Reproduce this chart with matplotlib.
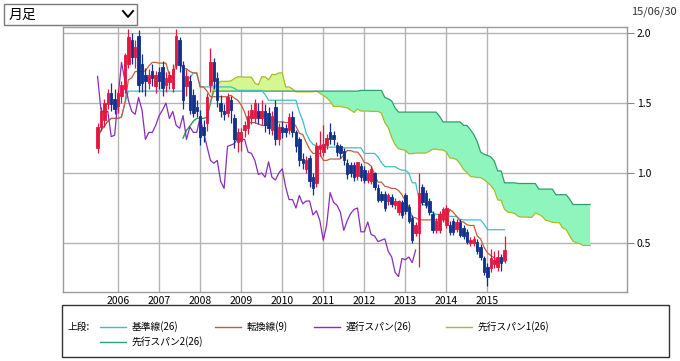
import numpy as np
import pandas as pd
import matplotlib
matplotlib.use('Agg')
import matplotlib.pyplot as plt
from matplotlib.patches import Rectangle
from matplotlib.lines import Line2D

plt.rcParams['font.family'] = ['Noto Sans CJK JP', 'DejaVu Sans']

# ── 月足データ (2005/07 〜 2015/06) ─────────────────────────
opens = [
    1.18, 1.33, 1.38, 1.49, 1.57, 1.53,
    1.48, 1.55, 1.60, 1.78, 1.95, 1.83, 1.98, 1.78, 1.70, 1.64, 1.73, 1.62,
    1.72, 1.76, 1.63, 1.65, 1.61, 1.77, 1.95, 1.77, 1.62, 1.66, 1.56, 1.47,
    1.41, 1.33, 1.36, 1.63, 1.79, 1.68, 1.50, 1.44, 1.43, 1.52, 1.39, 1.22,
    1.23, 1.31, 1.32, 1.39, 1.39, 1.44, 1.39, 1.44, 1.43, 1.31, 1.47, 1.24,
    1.33, 1.32, 1.31, 1.40, 1.29, 1.24, 1.10, 1.03, 1.11, 0.97, 0.93, 1.17,
    1.15, 1.20, 1.29, 1.27, 1.20, 1.19, 1.16, 1.07, 1.06, 1.06, 0.98, 1.05,
    1.02, 0.95, 0.94, 1.00, 0.89, 0.85, 0.85, 0.80, 0.83, 0.77, 0.72, 0.79,
    0.84, 0.76, 0.68, 0.57, 0.57, 0.90, 0.86, 0.80, 0.71, 0.59, 0.59, 0.67,
    0.63, 0.63, 0.66, 0.60, 0.65, 0.61, 0.58, 0.50, 0.50, 0.51, 0.47, 0.39,
    0.33, 0.32, 0.35, 0.33, 0.40, 0.38,
]
highs = [
    1.36, 1.47, 1.53, 1.60, 1.64, 1.60,
    1.60, 1.66, 1.86, 2.03, 2.00, 1.95, 2.02, 1.85, 1.75, 1.74, 1.78, 1.73,
    1.76, 1.80, 1.72, 1.73, 1.78, 2.03, 1.97, 1.80, 1.74, 1.70, 1.60, 1.52,
    1.45, 1.38, 1.57, 1.89, 1.82, 1.72, 1.56, 1.49, 1.57, 1.55, 1.42, 1.32,
    1.32, 1.37, 1.45, 1.49, 1.53, 1.50, 1.52, 1.49, 1.47, 1.44, 1.52, 1.36,
    1.37, 1.35, 1.43, 1.44, 1.31, 1.26, 1.14, 1.12, 1.13, 1.00, 1.22, 1.30,
    1.34, 1.28, 1.36, 1.30, 1.22, 1.21, 1.18, 1.10, 1.08, 1.08, 1.08, 1.07,
    1.05, 1.02, 1.05, 1.01, 0.92, 0.87, 0.87, 0.86, 0.85, 0.82, 0.81, 0.81,
    0.86, 0.78, 0.70, 0.65, 1.00, 0.92, 0.88, 0.82, 0.73, 0.68, 0.73, 0.76,
    0.77, 0.66, 0.68, 0.67, 0.67, 0.63, 0.60, 0.54, 0.55, 0.53, 0.49, 0.41,
    0.36, 0.46, 0.44, 0.45, 0.42, 0.55,
]
lows = [
    1.14, 1.30, 1.33, 1.46, 1.44, 1.42,
    1.43, 1.50, 1.57, 1.75, 1.78, 1.75, 1.58, 1.58, 1.55, 1.60, 1.62, 1.57,
    1.60, 1.55, 1.58, 1.60, 1.58, 1.74, 1.72, 1.46, 1.55, 1.42, 1.40, 1.40,
    1.20, 1.22, 1.30, 1.58, 1.60, 1.47, 1.40, 1.38, 1.40, 1.36, 1.18, 1.15,
    1.16, 1.26, 1.28, 1.35, 1.36, 1.35, 1.34, 1.29, 1.28, 1.27, 1.20, 1.20,
    1.25, 1.26, 1.28, 1.26, 1.15, 1.05, 1.03, 1.00, 0.90, 0.84, 0.90, 1.12,
    1.12, 1.17, 1.21, 1.20, 1.12, 1.11, 1.06, 0.96, 0.97, 0.94, 0.95, 0.94,
    0.93, 0.93, 0.92, 0.88, 0.79, 0.79, 0.73, 0.77, 0.76, 0.74, 0.70, 0.68,
    0.71, 0.64, 0.50, 0.55, 0.33, 0.77, 0.75, 0.70, 0.57, 0.57, 0.57, 0.65,
    0.61, 0.56, 0.56, 0.58, 0.54, 0.53, 0.49, 0.48, 0.48, 0.42, 0.38, 0.27,
    0.19, 0.29, 0.32, 0.30, 0.30, 0.36,
]
closes = [
    1.33, 1.44, 1.50, 1.57, 1.49, 1.46,
    1.57, 1.63, 1.84, 1.97, 1.83, 1.90, 1.63, 1.64, 1.66, 1.70, 1.68, 1.70,
    1.66, 1.61, 1.68, 1.70, 1.74, 1.98, 1.77, 1.52, 1.69, 1.45, 1.43, 1.44,
    1.26, 1.27, 1.54, 1.79, 1.66, 1.52, 1.44, 1.42, 1.54, 1.45, 1.24, 1.29,
    1.29, 1.34, 1.41, 1.45, 1.50, 1.39, 1.44, 1.34, 1.32, 1.41, 1.24, 1.33,
    1.29, 1.29, 1.40, 1.29, 1.19, 1.09, 1.07, 1.09, 0.94, 0.89, 1.19, 1.20,
    1.21, 1.25, 1.24, 1.24, 1.15, 1.14, 1.09, 0.99, 1.00, 0.97, 1.08, 0.97,
    0.95, 1.00, 1.03, 0.90, 0.81, 0.81, 0.75, 0.84, 0.78, 0.80, 0.80, 0.70,
    0.73, 0.66, 0.52, 0.63, 0.86, 0.79, 0.77, 0.72, 0.59, 0.66, 0.71, 0.74,
    0.75, 0.58, 0.58, 0.65, 0.56, 0.55, 0.51, 0.52, 0.53, 0.44, 0.40, 0.29,
    0.26, 0.39, 0.38, 0.40, 0.36, 0.45,
]
years = list(range(2006, 2016))
y_ticks = [0.5, 1.0, 1.5, 2.0]
legend_items = [
    ("基準線(26)",     "#3cc0c8"),
    ("転換線(9)",      "#c0603a"),
    ("遅行スパン(26)", "#8a2cbc"),
    ("先行スパン1(26)", "#aabc28"),
    ("先行スパン2(26)", "#2f9e6e"),
]

UP, DOWN = "#e4153f", "#12318c"
LAG = 26     # 遅行スパン
LEAD = 25    # 先行スパン (当月を含めて26)

# ── 一目均衡表 ───────────────────────────────────────────────
df = pd.DataFrame({"open": opens, "high": highs, "low": lows, "close": closes},
                  index=pd.period_range("2005-07", "2015-06", freq="M"))
xm = np.arange(len(df)) - 6.0   # 2006年1月 = 0

def mid(n):
    return (df["high"].rolling(n, min_periods=1).max() +
            df["low"].rolling(n, min_periods=1).min()) / 2

kijun = mid(26)
tenkan = mid(9)
span1 = ((kijun + tenkan) / 2).values
span2 = mid(52).values
xs = xm + LEAD

# ── 描画 ─────────────────────────────────────────────────────
W, H = 680, 361
fig = plt.figure(figsize=(W / 100, H / 100), dpi=100)
ax = fig.add_axes([63 / W, (H - 292) / H, 564 / W, 265 / H])

def px(x, y):
    return x / W, (H - y) / H

# 雲
ax.fill_between(xs, span1, span2, where=span1 >= span2, interpolate=True,
                color="#d4f792", lw=0, zorder=1)
ax.fill_between(xs, span1, span2, where=span2 > span1, interpolate=True,
                color="#8ef5bc", lw=0, zorder=1)
ax.plot(xs, span1, color=legend_items[3][1], lw=0.9, zorder=2)
ax.plot(xs, span2, color=legend_items[4][1], lw=0.9, zorder=2)
ax.plot(xm, kijun.values, color=legend_items[0][1], lw=0.9, zorder=2)
ax.plot(xm, tenkan.values, color=legend_items[1][1], lw=0.9, zorder=2)
ax.plot(xm[LAG:] - LAG, df["close"].values[LAG:],
        color=legend_items[2][1], lw=0.9, zorder=2)

# ローソク足
o = df["open"].values
c = df["close"].values
cols = [UP if cc >= oo else DOWN for oo, cc in zip(o, c)]
ax.vlines(xm, df["low"].values, df["high"].values, colors=cols, lw=0.9, zorder=3)
ax.bar(xm, np.abs(c - o), bottom=np.minimum(o, c), width=0.72, color=cols,
       edgecolor=cols, linewidth=0.6, zorder=4)

# 軸
ax.set_xlim(-16.1, 148.8)
ax.set_ylim(0.15, 2.043)
ax.set_xticks([(y - 2006) * 12 for y in years])
ax.set_xticklabels([str(y) for y in years], fontsize=7.5)
ax.set_yticks(y_ticks)
ax.set_yticklabels([f"{v:.1f}" for v in y_ticks], fontsize=7.5)
ax.yaxis.tick_right()
ax.tick_params(axis="x", length=0, pad=3)
ax.tick_params(axis="y", length=5, width=0.8, color="#888888", pad=2)
ax.grid(True, color="#b4b4b4", lw=1.0, zorder=0)
ax.set_axisbelow(True)
for s in ax.spines.values():
    s.set_color("#9a9a9a")
    s.set_linewidth(1.0)

# 上部の足種セレクタと日付
x0, y0 = px(4, 25)
fig.add_artist(Rectangle((x0, y0), 133 / W, 21 / H, transform=fig.transFigure,
                         facecolor="white", edgecolor="#7a7a7a", lw=1.0))
fig.text(*px(9, 14.5), "月足", fontsize=10, va="center", ha="left")
cx = [px(123, 11)[0], px(128, 17)[0], px(133, 11)[0]]
cy = [px(123, 11)[1], px(128, 17)[1], px(133, 11)[1]]
fig.add_artist(Line2D(cx, cy, transform=fig.transFigure, color="black", lw=1.4))
fig.text(*px(631, 12), "15/06/30", fontsize=8, va="center", ha="left", color="#333333")

# 凡例
lx0, ly0 = px(62, 357)
fig.add_artist(Rectangle((lx0, ly0), 607 / W, 52 / H, transform=fig.transFigure,
                         facecolor="white", edgecolor="#333333", lw=1.0))
fig.text(*px(68, 327), "上段:", fontsize=7, va="center", ha="left")
slots = [(100, 327), (215, 327), (314, 327), (446, 327), (100, 342)]
for (label, col), (sx, sy) in zip(legend_items, slots):
    a, b = px(sx, sy)
    a2, _ = px(sx + 26, sy)
    fig.add_artist(Line2D([a, a2], [b, b], transform=fig.transFigure, color=col, lw=1.0))
    fig.text(*px(sx + 32, sy), label, fontsize=7, va="center", ha="left")

plt.savefig("out.png", dpi=100)
